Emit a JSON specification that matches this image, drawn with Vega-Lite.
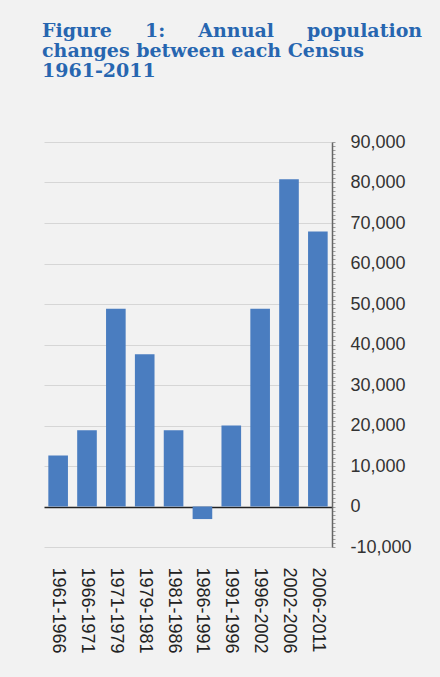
{
  "$schema": "https://vega.github.io/schema/vega-lite/v6.json",
  "autosize": "none",
  "width": 288,
  "height": 405,
  "padding": {"left": 44, "top": 142, "right": 108, "bottom": 130},
  "background": "#f2f2f2",
  "title": {
    "text": ["Figure\u00a0\u00a0\u00a0\u00a0\u00a01:\u00a0\u00a0\u00a0\u00a0\u00a0Annual\u00a0\u00a0\u00a0\u00a0\u00a0population", "changes between each Census", " 1961-2011"],
    "font": "DejaVu Serif",
    "fontWeight": "bold",
    "fontSize": 19,
    "lineHeight": 20,
    "color": "#2766b0",
    "anchor": "start",
    "frame": "group",
    "offset": 52,
    "dx": -2
  },
  "data": {
    "values": [
      {"period": "1961-1966", "change": 12600},
      {"period": "1966-1971", "change": 18800},
      {"period": "1971-1979", "change": 48800},
      {"period": "1979-1981", "change": 37600},
      {"period": "1981-1986", "change": 18800},
      {"period": "1986-1991", "change": -3100},
      {"period": "1991-1996", "change": 20000},
      {"period": "1996-2002", "change": 48800},
      {"period": "2002-2006", "change": 80800},
      {"period": "2006-2011", "change": 67900}
    ]
  },
  "mark": {"type": "bar", "color": "#4a7dc0"},
  "encoding": {
    "x": {
      "field": "period",
      "type": "nominal",
      "sort": null,
      "scale": {"paddingInner": 0.32, "paddingOuter": 0.15},
      "axis": {
        "title": null,
        "orient": "bottom",
        "domain": false,
        "ticks": false,
        "labelAngle": 90,
        "labelAlign": "left",
        "labelBaseline": "middle",
        "labelPadding": 20,
        "labelFont": "Liberation Sans",
        "labelFontSize": 18,
        "labelColor": "#222222"
      }
    },
    "y": {
      "field": "change",
      "type": "quantitative",
      "scale": {"domain": [-10000, 90000], "nice": false},
      "axis": {
        "title": null,
        "orient": "right",
        "tickCount": 100,
        "labelOverlap": false,
        "labelBound": false,
        "labelExpr": "datum.value % 10000 === 0 ? replace(format(datum.value, ','), '\u2212', '-') : ''",
        "labelFont": "Liberation Sans",
        "labelFontSize": 18,
        "labelColor": "#333333",
        "labelPadding": 15,
        "domainColor": "#666666",
        "domainWidth": 1.5,
        "tickColor": "#888888",
        "tickSize": 3,
        "tickWidth": 0.8,
        "grid": true,
        "gridColor": {"condition": {"test": "datum.value === 0", "value": "#222222"}, "value": "#d6d6d6"},
        "gridWidth": {"condition": {"test": "datum.value === 0", "value": 1.5}, "value": 1},
        "gridOpacity": {"condition": {"test": "datum.value % 10000 === 0", "value": 1}, "value": 0}
      }
    }
  },
  "config": {"view": {"stroke": null}}
}
